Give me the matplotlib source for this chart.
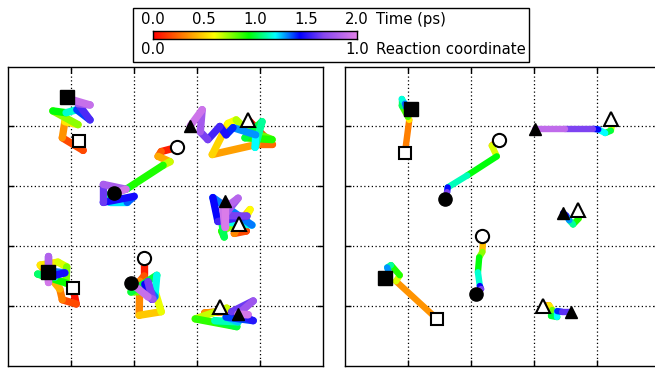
import numpy as np
import matplotlib
matplotlib.use('Agg')
import matplotlib.pyplot as plt
from matplotlib.collections import LineCollection
from matplotlib.colors import LinearSegmentedColormap, Normalize
from matplotlib.patches import Rectangle

# ---------------- data (left panel: coloured by time, ps) ----------------
sqA_x = [1.13, 1.20, 0.87, 0.91, 1.12, 0.72, 0.93, 1.10, 1.31, 1.12, 1.31, 1.02, 0.94]
sqA_y = [3.76, 3.60, 3.81, 4.08, 4.03, 4.26, 4.23, 4.28, 4.11, 4.38, 4.36, 4.45, 4.50]
sqA_t = [0.0, 0.1, 0.25, 0.45, 0.65, 0.85, 1.05, 1.25, 1.5, 1.65, 1.85, 1.95, 2.0]

ciB_x = [2.69, 2.44, 2.39, 2.58, 2.47, 1.90, 1.60, 1.63, 1.90, 2.01, 1.52, 1.52, 1.88, 1.69]
ciB_y = [3.65, 3.58, 3.50, 3.41, 3.35, 2.96, 2.85, 2.73, 2.73, 2.83, 2.73, 3.03, 2.95, 2.88]
ciB_t = [0.0, 0.15, 0.3, 0.5, 0.85, 0.95, 1.05, 1.15, 1.3, 1.4, 1.55, 1.7, 1.9, 2.0]

trC_x = [3.82, 3.94, 4.20, 3.96, 3.25, 3.50, 3.63, 3.79, 4.20, 3.77, 4.04, 3.93, 3.94, 3.58, 3.47, 3.37, 3.18, 3.06, 3.09, 2.90]
trC_y = [4.11, 3.98, 3.70, 3.70, 3.53, 4.05, 4.11, 3.95, 3.78, 3.81, 4.08, 3.65, 3.86, 3.98, 3.86, 4.00, 3.78, 3.91, 4.28, 4.01]
trC_t = [0.0, 0.1, 0.2, 0.3, 0.45, 0.55, 0.65, 0.75, 0.85, 0.95, 1.05, 1.15, 1.25, 1.35, 1.45, 1.52, 1.6, 1.7, 1.85, 2.0]

trD_x = [3.67, 3.79, 3.60, 3.69, 3.85, 3.77, 3.40, 3.44, 3.40, 3.88, 3.26, 3.34, 3.80, 3.44, 3.66, 3.42, 3.45, 3.45]
trD_y = [2.36, 2.25, 2.21, 2.41, 2.61, 2.45, 2.25, 2.15, 2.41, 2.35, 2.81, 2.41, 2.50, 2.51, 2.80, 2.61, 2.31, 2.76]
trD_t = [0.0, 0.1, 0.25, 0.4, 0.55, 0.65, 0.85, 0.95, 1.1, 1.25, 1.4, 1.5, 1.6, 1.7, 1.8, 1.9, 1.95, 2.0]

sqE_x = [1.04, 1.09, 0.87, 0.83, 0.52, 0.80, 0.94, 0.93, 0.48, 0.75, 0.67, 0.91, 0.64, 0.64, 0.64, 0.64]
sqE_y = [1.30, 1.03, 1.10, 1.28, 1.68, 1.73, 1.65, 1.38, 1.53, 1.48, 1.58, 1.55, 1.48, 1.83, 1.40, 1.56]
sqE_t = [0.0, 0.1, 0.25, 0.35, 0.5, 0.6, 0.7, 0.85, 1.0, 1.1, 1.25, 1.4, 1.55, 1.75, 1.9, 2.0]

ciF_x = [2.17, 2.17, 2.10, 2.09, 2.44, 2.34, 1.96, 2.37, 2.34, 2.18, 2.29, 2.23, 2.31, 2.23, 1.96]
ciF_y = [1.80, 1.50, 1.41, 0.84, 0.90, 1.25, 1.23, 1.51, 1.15, 1.36, 1.11, 1.40, 1.11, 1.15, 1.38]
ciF_t = [0.0, 0.15, 0.25, 0.4, 0.55, 0.7, 0.9, 1.1, 1.25, 1.4, 1.5, 1.6, 1.7, 1.8, 2.0]

trG_x = [3.37, 3.45, 3.13, 3.40, 3.48, 2.98, 3.64, 3.29, 3.66, 3.47, 3.90, 3.56, 3.90, 3.66, 3.82, 3.66]
trG_y = [0.98, 0.90, 0.88, 0.90, 0.96, 0.78, 0.65, 0.75, 0.73, 0.81, 0.75, 0.90, 1.08, 0.86, 0.85, 0.86]
trG_t = [0.0, 0.1, 0.25, 0.45, 0.55, 0.8, 0.95, 1.05, 1.2, 1.3, 1.45, 1.55, 1.7, 1.8, 1.9, 2.0]

# ---------------- data (right panel: coloured by reaction coordinate) ----------------
rsq1_x = [0.95, 1.02, 1.00, 0.90, 0.90, 0.95, 0.98, 1.05]
rsq1_y = [3.55, 4.11, 4.16, 4.35, 4.46, 4.38, 4.31, 4.30]
rsq1_r = [0.1, 0.2, 0.35, 0.5, 0.55, 0.62, 0.72, 0.8]

rci2_x = [2.44, 2.33, 2.41, 1.94, 1.63, 1.62, 1.59]
rci2_y = [3.78, 3.68, 3.50, 3.18, 2.98, 2.90, 2.78]
rci2_r = [0.1, 0.2, 0.45, 0.5, 0.63, 0.8, 0.85]

rtr3_x = [4.22, 4.24, 4.22, 4.13, 4.02, 3.94, 3.49, 3.02]
rtr3_y = [4.13, 4.03, 3.93, 3.89, 3.95, 3.96, 3.96, 3.96]
rtr3_r = [0.1, 0.2, 0.45, 0.55, 0.65, 0.78, 0.88, 1.0]

rtr4_x = [3.70, 3.68, 3.71, 3.62, 3.56, 3.51, 3.46]
rtr4_y = [2.60, 2.55, 2.46, 2.36, 2.43, 2.51, 2.55]
rtr4_r = [0.1, 0.2, 0.4, 0.5, 0.6, 0.7, 0.8]

rsq5_x = [1.46, 0.81, 0.87, 0.73, 0.67, 0.71, 0.63]
rsq5_y = [0.78, 1.41, 1.51, 1.68, 1.64, 1.51, 1.46]
rsq5_r = [0.1, 0.25, 0.4, 0.5, 0.6, 0.7, 0.8]

rci6_x = [2.18, 2.19, 2.18, 2.13, 2.11, 2.14, 2.16, 2.08]
rci6_y = [2.16, 2.08, 1.90, 1.81, 1.56, 1.33, 1.28, 1.20]
rci6_r = [0.1, 0.15, 0.3, 0.45, 0.5, 0.65, 0.8, 0.85]

rtr7_x = [3.14, 3.24, 3.29, 3.27, 3.37, 3.37, 3.44, 3.59]
rtr7_y = [1.00, 1.01, 0.93, 0.83, 0.81, 0.91, 0.90, 0.90]
rtr7_r = [0.1, 0.2, 0.35, 0.45, 0.55, 0.65, 0.75, 0.85]

time_ticks = [0.0, 0.5, 1.0, 1.5, 2.0]
rc_ticks = [0.0, 1.0]

# ---------------- styling ----------------
cmap = LinearSegmentedColormap.from_list('traj', [
    (0.00, '#ff0000'), (0.15, '#ff8000'), (0.30, '#ffff00'), (0.47, '#00ff00'),
    (0.60, '#00ffff'), (0.72, '#0000ff'), (0.84, '#8848f0'), (1.00, '#e080e8')])

W, H = 655, 368
fig = plt.figure(figsize=(W / 100, H / 100), dpi=100)

def add_panel(left_px):
    ax = fig.add_axes([left_px / W, (H - 365.5) / H, 315 / W, 298.8 / H])
    ax.set_xlim(0, 5)
    ax.set_ylim(0, 5)
    ax.set_xticks([1, 2, 3, 4])
    ax.set_yticks([1, 2, 3, 4])
    ax.set_xticklabels([])
    ax.set_yticklabels([])
    ax.tick_params(direction='in', length=4, width=1, top=True, right=True,
                   bottom=True, left=True)
    ax.grid(True, color='black', linestyle=(0, (1, 2)), linewidth=0.9)
    ax.set_axisbelow(True)
    for s in ax.spines.values():
        s.set_linewidth(1.0)
    return ax

axL = add_panel(7.5)
axR = add_panel(345)

def draw(ax, xs, ys, cs, vmax, marker, lw, ms_open, ms_fill):
    pts = np.column_stack([xs, ys])
    segs = np.stack([pts[:-1], pts[1:]], axis=1)
    cs = np.asarray(cs, float)
    mid = (cs[:-1] + cs[1:]) / 2.0
    lc = LineCollection(segs, colors=cmap(Normalize(0, vmax)(mid)), linewidths=lw,
                        capstyle='round', joinstyle='round', zorder=3)
    ax.add_collection(lc)
    ax.plot(xs[0], ys[0], marker=marker, ms=ms_open, mfc='white', mec='black',
            mew=1.5, zorder=5, linestyle='none')
    ax.plot(xs[-1], ys[-1], marker=marker, ms=ms_fill, mfc='black', mec='black',
            mew=1.0, zorder=5, linestyle='none')

left_sets = [(sqA_x, sqA_y, sqA_t, 's'), (ciB_x, ciB_y, ciB_t, 'o'),
             (trC_x, trC_y, trC_t, '^'), (trD_x, trD_y, trD_t, '^'),
             (sqE_x, sqE_y, sqE_t, 's'), (ciF_x, ciF_y, ciF_t, 'o'),
             (trG_x, trG_y, trG_t, '^')]
right_sets = [(rsq1_x, rsq1_y, rsq1_r, 's'), (rci2_x, rci2_y, rci2_r, 'o'),
              (rtr3_x, rtr3_y, rtr3_r, '^'), (rtr4_x, rtr4_y, rtr4_r, '^'),
              (rsq5_x, rsq5_y, rsq5_r, 's'), (rci6_x, rci6_y, rci6_r, 'o'),
              (rtr7_x, rtr7_y, rtr7_r, '^')]

msz = {'s': (9, 10), 'o': (9.5, 9.5), '^': (10, 8)}
for xs, ys, ts, m in left_sets:
    draw(axL, xs, ys, ts, 2.0, m, 5.3, *msz[m])
for xs, ys, rs, m in right_sets:
    draw(axR, xs, ys, rs, 1.0, m, 4.6, *msz[m])

# ---------------- colour bar box ----------------
fig.patches.append(Rectangle((133 / W, 1 - 62 / H), (529 - 133) / W, (62 - 7.7) / H,
                             transform=fig.transFigure, facecolor='white',
                             edgecolor='black', linewidth=1.0, zorder=-5))
axc = fig.add_axes([153 / W, 1 - 38.7 / H, 204 / W, 7.7 / H])
axc.set_zorder(2)
axc.imshow(np.linspace(0, 1, 256)[None, :], aspect='auto', cmap=cmap,
           extent=[0, 1, 0, 1])
axc.set_xticks([])
axc.set_yticks([])
for s in axc.spines.values():
    s.set_linewidth(1.0)

FS = 10.7
for t in time_ticks:
    axc.text(t / 2.0, 2.45, f'{t:.1f}', transform=axc.transAxes, ha='center',
             va='center', fontsize=FS)
for r in rc_ticks:
    axc.text(r, -1.45, f'{r:.1f}', transform=axc.transAxes, ha='center',
             va='center', fontsize=FS)
axc.text(1.095, 2.45, 'Time (ps)', transform=axc.transAxes, ha='left', va='center',
         fontsize=FS)
axc.text(1.095, -1.45, 'Reaction coordinate', transform=axc.transAxes, ha='left',
         va='center', fontsize=FS)

fig.savefig('out.png', dpi=100)
